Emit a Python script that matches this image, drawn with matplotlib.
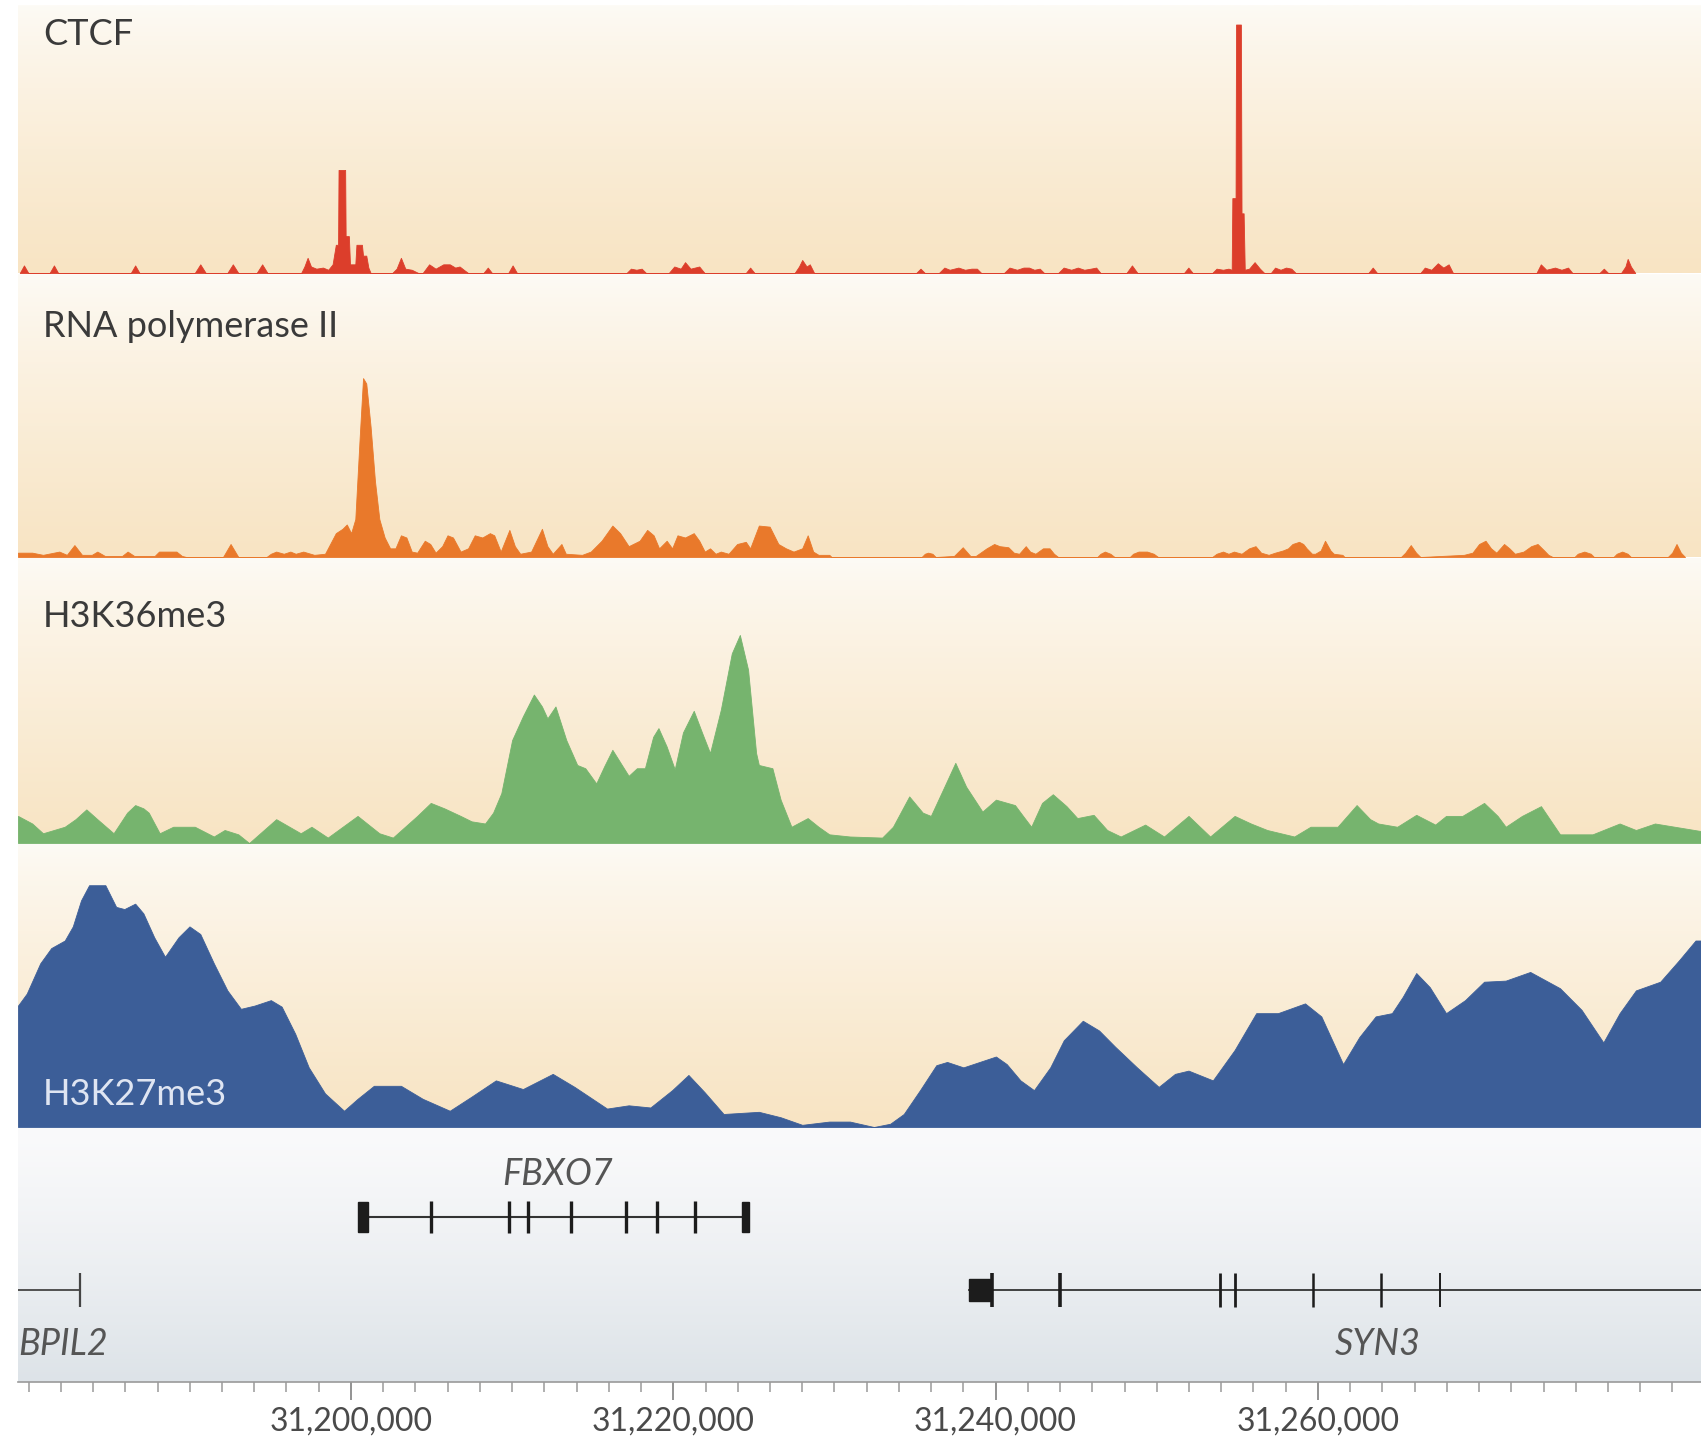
import numpy as np
import matplotlib
matplotlib.use("Agg")
import matplotlib.pyplot as plt
from matplotlib.patches import Rectangle

# ---------------- data (positions in kb, signal in arbitrary units) ----------------
XMIN, XMAX = 31179.34, 31283.77

ctcf_pos = [31179.45, 31179.71, 31179.98, 31181.30, 31181.57, 31181.83,
            31186.34, 31186.61, 31186.88, 31190.31, 31190.65, 31190.99,
            31192.33, 31192.67, 31193.01, 31194.15, 31194.49, 31194.82,
            31196.91, 31197.11, 31197.31, 31197.52, 31197.85, 31198.26, 31198.59,
            31198.86, 31199.06, 31199.20, 31199.23, 31199.64, 31199.67, 31199.87,
            31199.94, 31200.27, 31200.34, 31200.68, 31200.75, 31200.95, 31201.08, 31201.22,
            31202.56, 31202.83, 31203.10, 31203.37, 31203.77, 31204.18,
            31204.45, 31204.85, 31205.25, 31205.73, 31206.13, 31206.47, 31206.74, 31207.00, 31207.27,
            31208.22, 31208.49, 31208.75, 31209.76, 31210.03, 31210.30,
            31217.10, 31217.37, 31217.71, 31218.04, 31218.31,
            31219.72, 31220.06, 31220.46, 31220.73, 31221.07, 31221.61, 31221.94,
            31224.50, 31224.77, 31225.04,
            31227.53, 31227.80, 31228.00, 31228.27, 31228.47, 31228.74,
            31235.07, 31235.34, 31235.61,
            31236.48, 31236.82, 31237.15, 31237.69, 31238.10, 31238.50, 31238.84, 31239.11,
            31240.52, 31240.86, 31241.33, 31241.73, 31242.07, 31242.40, 31242.74, 31243.01,
            31243.88, 31244.22, 31244.69, 31245.10, 31245.50, 31245.90, 31246.24, 31246.51,
            31248.12, 31248.46, 31248.80, 31251.69, 31251.96, 31252.23,
            31253.44, 31253.71, 31254.11, 31254.45, 31254.65, 31254.69, 31254.89, 31254.92,
            31255.22, 31255.26, 31255.39, 31255.46, 31255.73, 31256.07, 31256.40, 31256.67,
            31257.08, 31257.34, 31257.68, 31258.02, 31258.35, 31258.62,
            31263.13, 31263.40, 31263.67,
            31266.36, 31266.63, 31267.04, 31267.44, 31267.78, 31268.11, 31268.38,
            31273.56, 31273.83, 31274.17, 31274.71, 31275.11, 31275.52, 31275.79,
            31277.47, 31277.74, 31278.01,
            31278.81, 31279.08, 31279.22, 31279.42, 31279.69]
ctcf_val = [0, 7, 0, 0, 7, 0,
            0, 7, 0, 0, 8, 0,
            0, 8, 0, 0, 8, 0,
            0, 6, 14, 6, 4, 5, 3,
            8, 26, 26, 95, 95, 34, 34,
            8, 8, 26, 26, 16, 16, 5, 0,
            0, 4, 14, 4, 3, 0,
            0, 8, 4, 8, 8, 5, 6, 3, 0,
            0, 5, 0, 0, 7, 0,
            0, 4, 3, 4, 0,
            0, 6, 4, 10, 4, 6, 0,
            0, 5, 0,
            0, 6, 12, 6, 8, 0,
            0, 4, 0,
            0, 5, 3, 5, 3, 4, 4, 0,
            0, 5, 3, 5, 5, 3, 4, 0,
            0, 5, 3, 5, 3, 4, 5, 0,
            0, 7, 0, 0, 5, 0,
            0, 4, 3, 4, 3, 69, 69, 229,
            229, 55, 55, 3, 4, 10, 4, 0,
            0, 5, 3, 5, 4, 0,
            0, 5, 0,
            0, 5, 3, 9, 5, 8, 0,
            0, 8, 3, 5, 3, 5, 0,
            0, 4, 0,
            0, 6, 13, 6, 0]

pol2_pos = [31179.34, 31180.22, 31180.89, 31181.90, 31182.37, 31182.84, 31183.31, 31183.92,
            31184.26, 31184.73, 31185.80, 31186.14, 31186.55, 31187.82, 31188.09, 31189.17,
            31189.51, 31189.78, 31192.06, 31192.53, 31193.01, 31194.76, 31195.03, 31195.36,
            31195.83, 31196.24, 31196.57, 31197.04, 31197.72, 31198.39, 31199.06, 31199.47,
            31199.74, 31200.01, 31200.27, 31200.54, 31200.75, 31200.95, 31201.22, 31201.49,
            31201.76, 31202.09, 31202.43, 31202.76, 31203.10, 31203.44, 31203.77, 31204.11,
            31204.58, 31204.92, 31205.25, 31205.66, 31205.99, 31206.33, 31206.80, 31207.27,
            31207.68, 31208.15, 31208.62, 31208.89, 31209.29, 31209.83, 31210.17, 31210.50,
            31211.18, 31211.85, 31212.19, 31212.52, 31213.06, 31213.33, 31214.34, 31214.88,
            31215.55, 31216.22, 31216.70, 31217.23, 31217.91, 31218.38, 31218.78, 31219.12,
            31219.59, 31219.93, 31220.26, 31220.73, 31221.27, 31221.61, 31221.95, 31222.28,
            31222.62, 31222.95, 31223.43, 31223.96, 31224.50, 31224.77, 31225.31, 31225.98,
            31226.52, 31226.99, 31227.46, 31228.00, 31228.34, 31228.68, 31229.01, 31229.68,
            31229.82,
            31235.41, 31235.61, 31235.81, 31236.08, 31236.28, 31237.42, 31237.96, 31238.43,
            31238.77, 31239.44, 31239.91, 31240.25, 31240.79, 31241.13, 31241.46, 31241.87,
            31242.14, 31242.47, 31242.94, 31243.35, 31243.62, 31243.88, 31246.31, 31246.51,
            31246.78, 31247.12, 31247.38, 31248.33, 31248.53, 31248.87, 31249.40, 31249.81,
            31250.08, 31253.44, 31253.71, 31254.11, 31254.45, 31254.79, 31255.26, 31255.73,
            31256.13, 31256.47, 31256.94, 31257.34, 31257.82, 31258.15, 31258.42, 31258.83,
            31259.09, 31259.30, 31259.63, 31259.83, 31260.17, 31260.44, 31260.78, 31260.98,
            31261.52, 31261.65, 31265.15, 31265.42, 31265.76, 31266.09, 31266.36, 31269.06,
            31269.59, 31270.00, 31270.40, 31270.74, 31271.07, 31271.55, 31271.88, 31272.22,
            31272.76, 31273.23, 31273.63, 31274.04, 31274.30, 31274.57, 31275.92, 31276.12,
            31276.53, 31276.93, 31277.13, 31278.34, 31278.54, 31278.88, 31279.22, 31279.42,
            31281.71, 31281.98, 31282.25, 31282.52, 31282.78]
pol2_val = [4, 4, 2, 5, 2, 11, 2, 2,
            5, 1, 1, 5, 1, 1, 5, 5,
            1, 0, 0, 12, 0, 0, 3, 5,
            3, 5, 3, 5, 2, 3, 22, 26,
            30, 22, 35, 110, 165, 160, 120, 70,
            35, 18, 8, 8, 20, 18, 5, 4,
            15, 12, 4, 10, 20, 18, 5, 8,
            20, 18, 22, 20, 5, 25, 10, 3,
            5, 26, 10, 3, 12, 3, 2, 5,
            15, 29, 22, 10, 15, 25, 20, 8,
            15, 8, 20, 18, 22, 15, 5, 8,
            3, 5, 3, 12, 14, 8, 29, 28,
            12, 8, 5, 8, 20, 5, 2, 2,
            0,
            0, 3, 4, 3, 0, 1, 9, 1,
            1, 8, 12, 10, 9, 4, 3, 10,
            5, 3, 8, 8, 3, 0, 0, 3,
            5, 3, 0, 0, 3, 5, 5, 3,
            0, 0, 3, 5, 3, 5, 3, 8,
            10, 4, 2, 4, 6, 8, 12, 14,
            12, 8, 3, 3, 6, 15, 6, 3,
            2, 0, 0, 4, 11, 4, 0, 2,
            4, 12, 15, 8, 4, 12, 8, 3,
            5, 10, 12, 6, 2, 0, 0, 3,
            5, 3, 0, 0, 3, 5, 3, 0,
            0, 4, 12, 4, 0]

k36_pos = [31179.34, 31180.22, 31180.89, 31182.24, 31182.91, 31183.58, 31184.26, 31185.27,
           31186.11, 31186.61, 31187.12, 31187.45, 31188.13, 31188.97, 31190.31, 31191.49,
           31192.16, 31193.01, 31193.68, 31195.36, 31196.88, 31197.55, 31198.56, 31200.41,
           31201.76, 31202.60, 31204.11, 31204.95, 31205.79, 31206.80, 31207.48, 31208.32,
           31208.82, 31209.33, 31210.00, 31210.67, 31211.35, 31211.85, 31212.19, 31212.69,
           31213.36, 31214.04, 31214.54, 31215.22, 31215.72, 31216.22, 31217.23, 31217.74,
           31218.24, 31218.75, 31219.08, 31219.59, 31220.09, 31220.60, 31221.27, 31221.78,
           31222.28, 31222.95, 31223.63, 31224.13, 31224.64, 31225.14, 31225.31, 31226.15,
           31226.66, 31227.33, 31228.34, 31229.01, 31229.68, 31230.96,
           31232.96, 31233.63, 31234.64, 31235.48, 31235.98, 31236.82, 31237.50, 31238.17,
           31239.18, 31240.02, 31241.20, 31241.70, 31242.21, 31242.88, 31243.55, 31244.40,
           31245.07, 31246.08, 31246.92, 31247.76, 31249.28, 31250.45, 31251.97, 31253.31,
           31254.83, 31255.84, 31256.85, 31258.53, 31259.54, 31261.22, 31262.40, 31263.24,
           31263.74, 31264.92, 31266.10, 31267.28, 31267.95, 31268.96, 31270.31, 31271.15,
           31271.65, 31272.66, 31273.84, 31275.02, 31277.04, 31278.72, 31279.73, 31280.91,
           31283.77]
k36_val = [25, 18, 9, 15, 22, 31, 22, 9,
           28, 35, 32, 28, 9, 15, 15, 6,
           12, 8, 0, 22, 9, 15, 5, 25,
           9, 5, 25, 37, 32, 25, 20, 18,
           28, 46, 95, 117, 137, 126, 115, 126,
           95, 72, 69, 55, 71, 86, 62, 69,
           69, 98, 106, 89, 68, 102, 122, 102,
           83, 123, 175, 192, 160, 83, 72, 69,
           40, 15, 23, 15, 8, 6,
           5, 15, 43, 28, 25, 52, 74, 52,
           29, 40, 35, 25, 15, 37, 45, 34,
           23, 26, 12, 6, 17, 6, 25, 6,
           25, 18, 12, 6, 15, 15, 35, 22,
           18, 15, 26, 17, 25, 25, 37, 25,
           15, 25, 34, 8, 8, 18, 12, 18,
           11]

k27_pos = [31179.34, 31179.88, 31180.72, 31181.40, 31182.24, 31182.74, 31183.25, 31183.75,
           31184.76, 31185.43, 31185.94, 31186.61, 31187.12, 31187.79, 31188.46, 31189.30,
           31189.98, 31190.65, 31191.49, 31192.33, 31193.17, 31194.02, 31195.03, 31195.70,
           31196.54, 31197.38, 31198.39, 31199.57, 31200.41, 31201.42, 31203.10, 31204.45,
           31206.13, 31207.48, 31208.99, 31210.67, 31212.52, 31213.87, 31215.89, 31217.23,
           31218.58, 31219.93, 31220.94, 31221.95, 31223.12, 31225.31, 31226.66, 31228.00,
           31229.68, 31230.96,
           31232.45, 31233.46, 31234.30, 31235.31, 31236.32, 31236.99, 31238.00, 31239.01,
           31240.02, 31240.69, 31241.54, 31242.38, 31243.39, 31244.23, 31245.41, 31246.42,
           31247.42, 31248.77, 31250.12, 31251.13, 31251.97, 31253.48, 31254.83, 31256.17,
           31257.52, 31259.20, 31260.21, 31261.56, 31262.57, 31263.58, 31264.59, 31265.26,
           31266.10, 31266.94, 31267.95, 31269.13, 31270.31, 31271.65, 31273.17, 31275.02,
           31276.36, 31277.71, 31278.72, 31279.73, 31281.24, 31282.42, 31283.43, 31283.77]
k27_val = [112, 123, 151, 165, 172, 185, 209, 223,
           223, 203, 201, 206, 197, 175, 157, 175,
           185, 178, 151, 126, 109, 112, 117, 111,
           86, 55, 31, 15, 26, 38, 38, 26,
           15, 28, 43, 35, 49, 37, 17, 20,
           18, 34, 48, 32, 12, 14, 9, 2,
           5, 5,
           0, 3, 12, 34, 57, 60, 55, 60,
           65, 58, 43, 34, 55, 80, 98, 89,
           74, 55, 37, 49, 52, 43, 71, 105,
           105, 114, 102, 58, 83, 102, 105, 120,
           142, 129, 105, 117, 134, 135, 143, 128,
           108, 78, 105, 126, 134, 154, 172, 172]

track_names = ["CTCF", "RNA polymerase II", "H3K36me3", "H3K27me3"]
track_colors = ["#dc3e2b", "#e9792b", "#76b46e", "#3c5e98"]

# genes
fbxo7_span = (31200.43, 31224.69)
fbxo7_exons = [31204.96, 31209.83, 31210.98, 31213.65, 31217.06, 31218.99, 31221.35]
bpil2_span = (31179.34, 31183.18)
syn3_span = (31238.36, 31283.77)
syn3_exons = [31239.77, 31244.01, 31253.93, 31254.84, 31259.72, 31263.92, 31267.56]
gene_names = ["FBXO7", "BPIL2", "SYN3"]

major_ticks = [31200, 31220, 31240, 31260]
major_labels = ["31,200,000", "31,220,000", "31,240,000", "31,260,000"]

# ---------------- figure ----------------
W, H = 1701, 1443
fig = plt.figure(figsize=(W / 100, H / 100), dpi=100)
fig.patch.set_facecolor("white")
FONT = ["Lato", "DejaVu Sans"]


def make_ax(top, bottom):
    return fig.add_axes([18 / W, 1 - bottom / H, 1 - 18 / W, (bottom - top) / H])


def gradient(ax, c_top, c_bot, power=1.0):
    t = np.linspace(0, 1, 256) ** power
    top = np.array(c_top) / 255.0
    bot = np.array(c_bot) / 255.0
    g = top[None, :] * (1 - t[:, None]) + bot[None, :] * t[:, None]
    ax.imshow(g[:, None, :], extent=[0, 1, 0, 1], transform=ax.transAxes,
              aspect="auto", zorder=0, interpolation="bilinear")


panels = [(5, 273, 247), (274, 557, 261), (558, 843, 263), (844, 1127, 261)]
series = [(ctcf_pos, ctcf_val), (pol2_pos, pol2_val), (k36_pos, k36_val), (k27_pos, k27_val)]
for (top, bot, ymax), (pos, val), col in zip(panels, series, track_colors):
    ax = make_ax(top, bot)
    gradient(ax, (253, 251, 246), (248, 228, 195), power=0.8)
    ax.fill_between(pos, 0, val, color=col, lw=0.6, edgecolor=col, zorder=2)
    ax.set_xlim(XMIN, XMAX)
    ax.set_ylim(0, ymax)
    ax.axis("off")

# track labels
label_pos = [(43, 45), (43, 337), (43, 627), (43, 1105)]
label_cols = ["#3a3a3a", "#3a3a3a", "#3a3a3a", "#dfe5f2"]
for name, (lx, ly), lc in zip(track_names, label_pos, label_cols):
    fig.text(lx / W, 1 - ly / H, name, fontsize=26, family=FONT, color=lc,
             va="baseline", ha="left", zorder=10)

# ---------------- gene track ----------------
gax = make_ax(1128, 1382)
gradient(gax, (250, 250, 251), (221, 227, 232), power=1.2)
gax.set_xlim(XMIN, XMAX)
gax.set_ylim(0, 254)
for s in ["top", "left", "right"]:
    gax.spines[s].set_visible(False)
gax.spines["bottom"].set_color("#9a9a9a")
gax.spines["bottom"].set_linewidth(1.2)
gax.set_yticks([])

ink = "#1c1c1c"
row1, row2 = 165, 92
# FBXO7
gax.plot(fbxo7_span, [row1, row1], color="#333333", lw=1.5, zorder=3, solid_capstyle="butt")
gax.add_patch(Rectangle((fbxo7_span[0], row1 - 15), 0.62, 30, color=ink, zorder=4))
gax.add_patch(Rectangle((fbxo7_span[1] - 0.45, row1 - 15), 0.45, 30, color=ink, zorder=4))
gax.vlines(fbxo7_exons, row1 - 16, row1 + 16, color=ink, lw=2.4, zorder=4)
# BPIL2
gax.plot(bpil2_span, [row2, row2], color="#444444", lw=1.3, zorder=3)
gax.vlines([bpil2_span[1]], row2 - 17, row2 + 17, color="#444444", lw=1.6, zorder=4)
# SYN3
gax.plot(syn3_span, [row2, row2], color="#333333", lw=1.3, zorder=3)
gax.add_patch(Rectangle((syn3_span[0], row2 - 11), 1.3, 22, color=ink, zorder=4))
syn3_lw = [2.6, 2.6, 2.0, 2.0, 1.8, 1.8, 1.4]
for xe, lw in zip(syn3_exons, syn3_lw):
    gax.vlines([xe], row2 - 17, row2 + 17, color=ink, lw=lw, zorder=4)

gax.text(31212.85, 197, gene_names[0], fontsize=26, style="italic", family=FONT,
         color="#555555", ha="center", va="baseline")
gax.text(XMIN, 27, gene_names[1], fontsize=26, style="italic", family=FONT,
         color="#555555", ha="left", va="baseline")
gax.text(31263.73, 27, gene_names[2], fontsize=26, style="italic", family=FONT,
         color="#555555", ha="center", va="baseline")

# axis ticks
gax.set_xticks(major_ticks)
gax.set_xticklabels(major_labels)
gax.set_xticks(np.arange(31180, 31284, 2), minor=True)
gax.tick_params(axis="x", which="major", length=13, width=1.3, color="#8a8a8a",
                pad=5, labelsize=23, labelcolor="#4a4a4a")
gax.tick_params(axis="x", which="minor", length=7, width=1.1, color="#9a9a9a")
for lbl in gax.get_xticklabels():
    lbl.set_family(FONT)

fig.savefig("out.png", dpi=100, facecolor="white")
